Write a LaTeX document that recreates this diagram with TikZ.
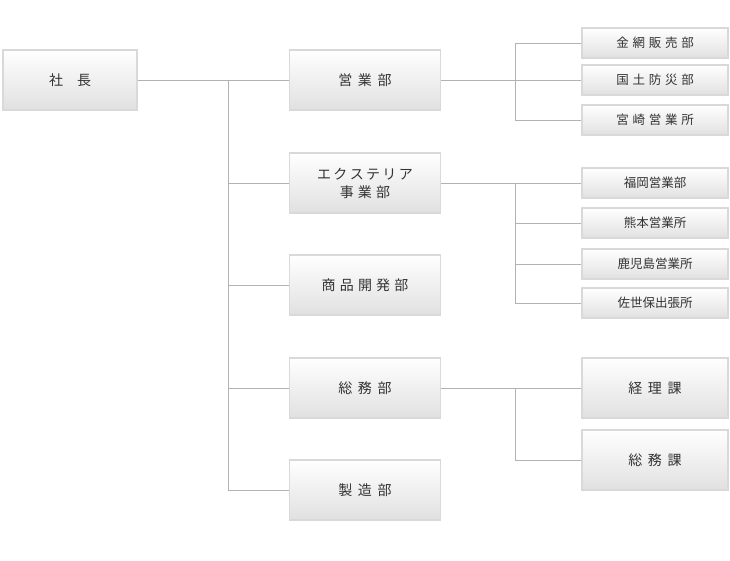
\documentclass[tikz,border=0pt]{standalone}
\usepackage{fontspec}
\setmainfont{Noto Sans CJK JP}
\begin{document}
\begin{tikzpicture}[x=1pt,y=-1pt,
  box/.style={draw=black!15,line width=1.2pt,top color=white,bottom color=black!12,minimum width=151pt,minimum height=60pt,inner sep=0pt,font=\fontsize{14}{18}\selectfont,text=black!80,align=center},
  sbox/.style={box,minimum width=146pt,minimum height=30pt,font=\fontsize{12.5}{15}\selectfont},
  mbox/.style={box,minimum width=146pt,minimum height=60pt},
  ln/.style={draw=black!30,line width=0.9pt}]
\useasboundingbox (0,0) rectangle (730,560);
\node[box,minimum width=134pt] (ceo) at (70,80) {社\hspace{1em}長};
\node[box] (eigyo) at (365,80) {営\hspace{0.4em}業\hspace{0.4em}部};
\node[box] (ext) at (365,183) {エ\,ク\,ス\,テ\,リ\,ア\\事\hspace{0.3em}業\hspace{0.3em}部};
\node[box] (shohin) at (365,285) {商\hspace{0.3em}品\hspace{0.3em}開\hspace{0.3em}発\hspace{0.3em}部};
\node[box] (somu) at (365,388) {総\hspace{0.4em}務\hspace{0.4em}部};
\node[box] (seizo) at (365,490) {製\hspace{0.4em}造\hspace{0.4em}部};
\node[sbox] (a1) at (655,43) {金\hspace{0.3em}網\hspace{0.3em}販\hspace{0.3em}売\hspace{0.3em}部};
\node[sbox] (a2) at (655,80) {国\hspace{0.3em}土\hspace{0.3em}防\hspace{0.3em}災\hspace{0.3em}部};
\node[sbox] (a3) at (655,120) {宮\hspace{0.3em}崎\hspace{0.3em}営\hspace{0.3em}業\hspace{0.3em}所};
\node[sbox] (b1) at (655,183) {福岡営業部};
\node[sbox] (b2) at (655,223) {熊本営業所};
\node[sbox] (b3) at (655,264) {鹿児島営業所};
\node[sbox] (b4) at (655,303) {佐世保出張所};
\node[mbox] (c1) at (655,388) {経\hspace{0.4em}理\hspace{0.4em}課};
\node[mbox] (c2) at (655,460) {総\hspace{0.4em}務\hspace{0.4em}課};
\coordinate (t1) at (228,80);
\coordinate (t2) at (228,490);
\draw[ln] (ceo) -- (eigyo);
\draw[ln] (t1) -- (t2) -- (seizo);
\draw[ln] (228,183) -- (ext);
\draw[ln] (228,285) -- (shohin);
\draw[ln] (228,388) -- (somu);
\coordinate (j1) at (515,43); \coordinate (j2) at (515,120);
\draw[ln] (eigyo) -- (a2);
\draw[ln] (a1) -- (j1) -- (j2) -- (a3);
\coordinate (k1) at (515,303);
\draw[ln] (ext) -- (b1);
\draw[ln] (515,183) -- (k1) -- (b4);
\draw[ln] (515,223) -- (b2);
\draw[ln] (515,264) -- (b3);
\coordinate (m1) at (515,460);
\draw[ln] (somu) -- (c1);
\draw[ln] (515,388) -- (m1) -- (c2);
\end{tikzpicture}
\end{document}
